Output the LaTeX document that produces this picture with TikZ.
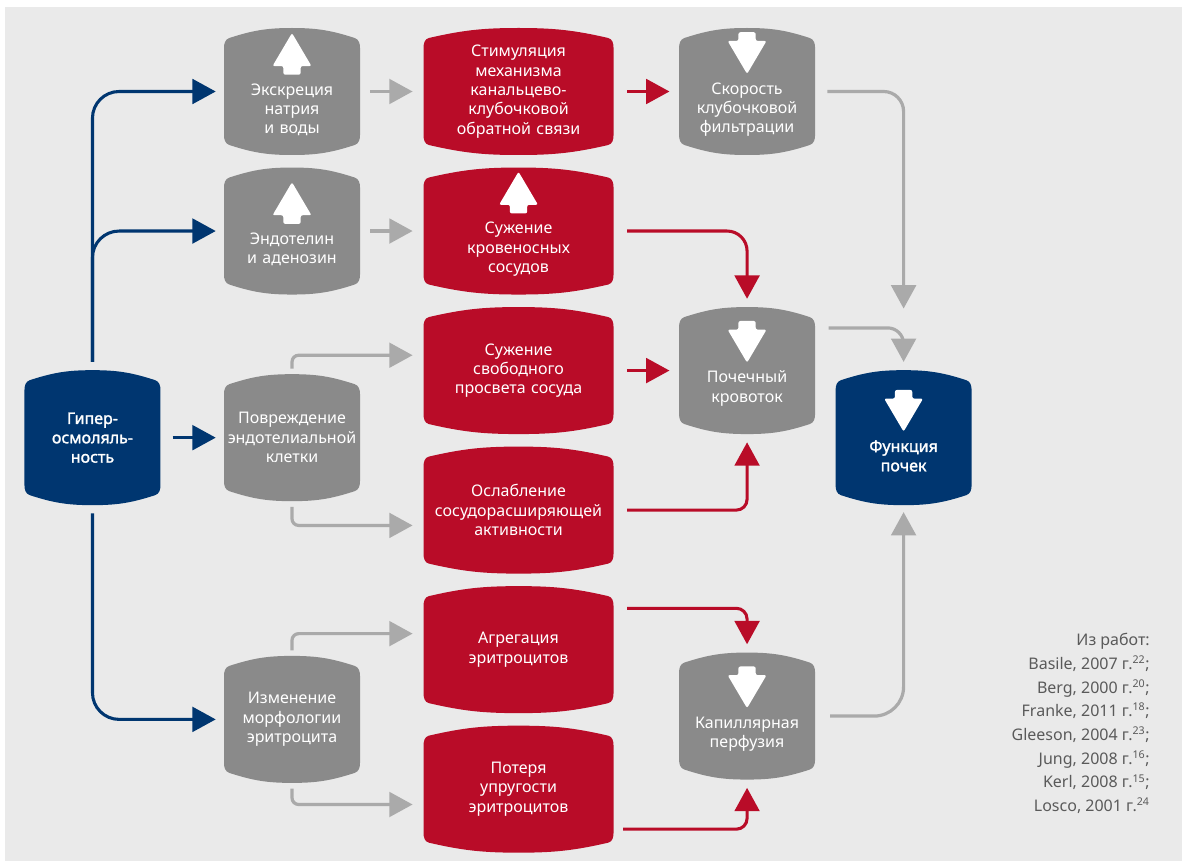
\documentclass[tikz,border=0pt]{standalone}
\usepackage{fontspec}
\setmainfont{Noto Sans}
\newfontfamily\heavyfont{Noto Sans}[FakeBold=1.6]
\usepackage{xcolor}
\usepackage{tikz}
\usetikzlibrary{arrows.meta,positioning,calc}
\definecolor{darkblue}{RGB}{0,54,112}
\definecolor{kidneyred}{RGB}{185,12,40}
\definecolor{boxgrey}{RGB}{138,138,138}
\definecolor{linegrey}{RGB}{170,170,170}
\definecolor{bggrey}{RGB}{234,234,234}
\definecolor{citegrey}{RGB}{90,90,90}
\newcommand\drumfill[2]{%
	\pgfmathsetmacro\bendA{180+#2}%
	\pgfmathsetmacro\bendB{180-#2}%
	\fill[#1] ([yshift=-15pt]path picture bounding box.north west)
		to[out=90,in=\bendA] ([xshift=4pt,yshift=-7.5pt]path picture bounding box.north west)
		to[out=#2,in=180] (path picture bounding box.north)
		to[out=0,in=\bendB] ([xshift=-4pt,yshift=-7.5pt]path picture bounding box.north east)
		to[out=-#2,in=90] ([yshift=-15pt]path picture bounding box.north east)
		-- ([yshift=15pt]path picture bounding box.south east)
		to[out=-90,in=#2] ([xshift=-4pt,yshift=7.5pt]path picture bounding box.south east)
		to[out=\bendA,in=0] (path picture bounding box.south)
		to[out=180,in=-#2] ([xshift=4pt,yshift=7.5pt]path picture bounding box.south west)
		to[out=\bendB,in=-90] ([yshift=15pt]path picture bounding box.south west)
		-- cycle;}
\newcommand\iconup[1]{%
	\fill[white,rounded corners=1.5pt] ($(#1.center |- #1.text)+(0pt,46.5pt)$) -- ++(14.6pt,-24.75pt) -- ++(-8.1pt,0pt) -- ++(0pt,-6.5pt) -- ++(-13pt,0pt) -- ++(0pt,6.5pt) -- ++(-8.1pt,0pt) -- cycle;}
\newcommand\icondown[1]{%
	\fill[white,rounded corners=1.5pt] ($(#1.center |- #1.text)+(0pt,15.25pt)$) -- ++(14.6pt,24.75pt) -- ++(-8.1pt,0pt) -- ++(0pt,6.5pt) -- ++(-13pt,0pt) -- ++(0pt,-6.5pt) -- ++(-8.1pt,0pt) -- cycle;}
\tikzset{
	drum/.style={
		rectangle,
		fill=bggrey,
		inner sep=0pt,
		minimum width=102pt,
		minimum height=95.25pt,
		text width=100pt,
		align=center,
		text=white,
		font=\fontsize{12}{14.5}\selectfont
	},
	greydrum/.style={
		drum,
		path picture={\drumfill{boxgrey}{18}}
	},
	reddrum/.style={
		drum,
		minimum width=142.5pt,
		text width=140pt,
		path picture={\drumfill{kidneyred}{13}}
	},
	bluedrum/.style={
		drum,
		minimum height=101.25pt,
		font=\fontsize{12}{14.5}\heavyfont,
		path picture={\drumfill{darkblue}{18}}
	},
	icon/.style={text height=36pt},
	cite/.style={
		align=right,
		inner sep=0pt,
		text=citegrey,
		font=\fontsize{12}{17.8}\selectfont
	},
	blueline/.style={-{Triangle[length=17.5pt,width=18.5pt]},line width=2.3pt,draw=darkblue,rounded corners=20pt,shorten >=6pt},
	greyline/.style={-{Triangle[length=17.5pt,width=18.5pt]},line width=2.4pt,draw=linegrey,rounded corners=5pt,shorten >=8pt},
	redline/.style={-{Triangle[length=17.5pt,width=18.5pt]},line width=2.3pt,draw=kidneyred,rounded corners=8pt,shorten >=6pt}
}

\begin{document}
\begin{tikzpicture}[x=0.75pt,y=-0.75pt,node distance=9pt and 47.25pt]
	\fill[bggrey] (5,7) rectangle (1182,861);
	\useasboundingbox (0,0) rectangle (1182,863);

	\node[greydrum,icon] (natrium) at (292,91.5) {Экскреция\\натрия\\и воды};
	\node[reddrum,right=of natrium] (stim) {Стимуляция\\механизма\\канальцево-\\клубочковой\\обратной связи};
	\node[greydrum,icon,right=48.75pt of stim] (gfr) {Скорость\\клубочковой\\фильтрации};
	\node[greydrum,icon,below=of natrium] (endo) {Эндотелин\\и аденозин};
	\node[reddrum,icon,below=of stim] (vaso) {Сужение\\кровеносных\\сосудов};
	\node[reddrum,below=of vaso] (lumen) {Сужение\\свободного\\просвета сосуда};
	\node[reddrum,below=of lumen] (dilat) {Ослабление\\сосудорасширяющей\\активности};
	\node[reddrum,below=of dilat] (aggr) {Агрегация\\эритроцитов};
	\node[reddrum,below=of aggr] (elast) {Потеря\\упругости\\эритроцитов};
	\node[greydrum,icon,right=48.75pt of lumen] (blood) {Почечный\\кровоток};
	\node[greydrum,icon,right=48.75pt of aggr.south east,yshift=-2pt] (cap) {Капиллярная\\перфузия};
	\node[greydrum,left=of lumen.south west,yshift=-2.5pt] (damage) {Повреждение\\эндотелиальной\\клетки};
	\node[greydrum,left=of aggr.south west,yshift=-4.5pt] (morph) {Изменение\\морфологии\\эритроцита};
	\node[bluedrum,left=of damage] (hyper) {Гипер-\\осмоляль-\\ность};
	\node[bluedrum,icon,right=15pt of blood.south east,yshift=-2.5pt] (kidney) {Функция\\почек};
	\node[cite,anchor=north east] (refs) at (1150,633) {Из работ:\\Basile, 2007 г.\textsuperscript{22};\\Berg, 2000 г.\textsuperscript{20};\\Franke, 2011 г.\textsuperscript{18};\\Gleeson, 2004 г.\textsuperscript{23};\\Jung, 2008 г.\textsuperscript{16};\\Kerl, 2008 г.\textsuperscript{15};\\Losco, 2001 г.\textsuperscript{24}};

	\foreach \n in {natrium,endo,vaso} {\iconup{\n}}
	\foreach \n in {gfr,blood,cap,kidney} {\icondown{\n}}

	\draw[blueline] ([yshift=6pt]hyper.north) |- (natrium);
	\draw[blueline] ([yshift=6pt]hyper.north) |- (endo);
	\draw[blueline,shorten <=9pt] (hyper) -- (damage);
	\draw[blueline] ([yshift=-6pt]hyper.south) |- (morph);

	\draw[greyline,shorten <=7.5pt] (natrium) -- (stim);
	\draw[greyline,shorten <=7.5pt] (endo) -- (vaso);
	\draw[greyline,shorten <=4pt] (damage.north) |- ([yshift=11.5pt]lumen.west);
	\draw[greyline,shorten <=4pt] (damage.south) |- ([yshift=-11.5pt]dilat.west);
	\draw[greyline,shorten <=4pt] (morph.north) |- ([yshift=12pt]aggr.west);
	\draw[greyline,shorten <=4pt] (morph.south) |- ([yshift=-11.5pt]elast.west);

	\draw[redline,shorten <=10pt,shorten >=7pt] (stim) -- (gfr);
	\draw[redline,rounded corners=15pt] ([xshift=10pt]vaso.east) -| (blood);
	\draw[redline,shorten <=10pt,shorten >=7pt] (lumen) -- (blood);
	\draw[redline] ([xshift=10pt]dilat.east) -| (blood);
	\draw[redline] ([xshift=10pt,yshift=31pt]aggr.east) -| (cap);
	\draw[redline] ([xshift=7pt,yshift=-30pt]elast.east) -| (cap);

	\coordinate (merge) at ([yshift=46pt]kidney.north);
	\draw[greyline,rounded corners=15pt,shorten <=9pt,shorten >=0pt] (gfr) -| (merge);
	\draw[greyline,rounded corners=12pt,shorten >=6pt] ([xshift=10pt,yshift=32pt]blood.east) -| (kidney);
	\draw[greyline,rounded corners=22pt,shorten >=5pt] ([xshift=11pt]cap.east) -| (kidney);
\end{tikzpicture}
\end{document}
